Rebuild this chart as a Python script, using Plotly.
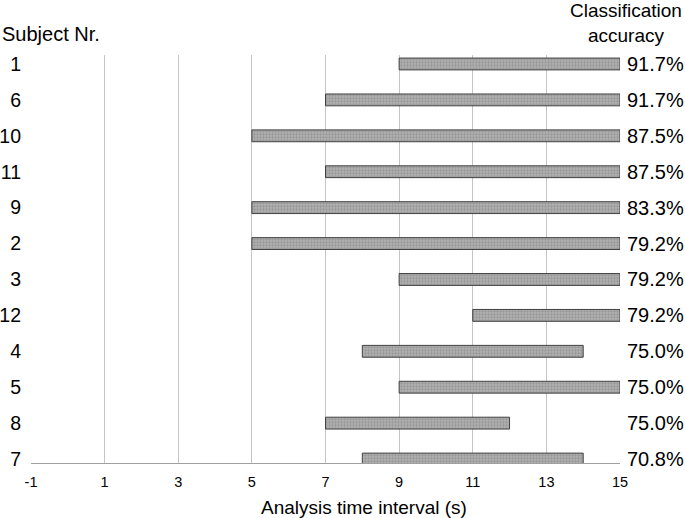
import plotly.graph_objects as go

subjects = ["1", "6", "10", "11", "9", "2", "3", "12", "4", "5", "8", "7"]
start_s = [9, 7, 5, 7, 5, 5, 9, 11, 8, 9, 7, 8]
end_s = [15, 15, 15, 15, 15, 15, 15, 15, 14, 15, 12, 14]
accuracy = ["91.7%", "91.7%", "87.5%", "87.5%", "83.3%", "79.2%", "79.2%", "79.2%", "75.0%", "75.0%", "75.0%", "70.8%"]
x_ticks = [-1, 1, 3, 5, 7, 9, 11, 13, 15]

n = len(subjects)
ypos = [n - 1 - i for i in range(n)]
durations = [e - s for s, e in zip(start_s, end_s)]

FONT = "Liberation Sans, Arial, sans-serif"

fig = go.Figure()
fig.add_trace(go.Bar(
    x=durations, base=start_s, y=ypos, orientation="h", width=0.33,
    marker=dict(color="#a8a8a8",
                line=dict(color="#404040", width=1),
                pattern=dict(shape=".", fgcolor="#7c7c7c", bgcolor="#b2b2b2", size=3, solidity=0.45)),
    showlegend=False, hoverinfo="skip",
))

# right-side accuracy labels via a second y axis
fig.add_trace(go.Scatter(x=[None], y=[None], yaxis="y2", showlegend=False))

yrange = [-0.11, 11.25]
fig.update_layout(
    width=685, height=518,
    margin=dict(l=31, r=65, t=55, b=55),
    paper_bgcolor="white", plot_bgcolor="white",
    font=dict(family=FONT, color="black"),
    xaxis=dict(range=[-1, 15], tickvals=x_ticks, ticktext=[str(v) for v in x_ticks],
               showgrid=True, gridcolor="#c4c4c4", gridwidth=1, zeroline=False,
               showline=True, linecolor="#a0a0a0", linewidth=1, automargin=False,
               ticks="", ticklabelstandoff=6, tickfont=dict(size=14.5, family=FONT)),
    yaxis=dict(range=yrange, tickvals=ypos, ticktext=subjects, showgrid=False, zeroline=False,
               showline=False, ticks="", ticklabelstandoff=9, automargin=False,
               tickfont=dict(size=19.5, family=FONT)),
    yaxis2=dict(range=yrange, overlaying="y", side="right", tickvals=ypos, ticktext=accuracy,
                showgrid=False, zeroline=False, showline=False, ticks="", ticklabelstandoff=6,
                automargin=False, tickfont=dict(size=20, family=FONT)),
    annotations=[
        dict(text="Subject Nr.", xref="paper", yref="paper", x=-31 / 589, y=1.0, xanchor="left",
             yanchor="middle", yshift=21, showarrow=False, font=dict(size=20, family=FONT)),
        dict(text="Classification<br>accuracy", xref="paper", yref="paper", x=(626 - 31) / 589, y=1.0,
             xanchor="center", yanchor="bottom", yshift=7, showarrow=False, align="center",
             font=dict(size=19, family=FONT)),
        dict(text="Analysis time interval (s)", xref="paper", yref="paper", x=(364 - 31) / 589, y=0,
             xanchor="center", yanchor="middle", yshift=-44, showarrow=False,
             font=dict(size=19, family=FONT)),
    ],
)

fig.write_html("out.html", config={"displayModeBar": False},
               post_script="document.body.style.margin='0';")
